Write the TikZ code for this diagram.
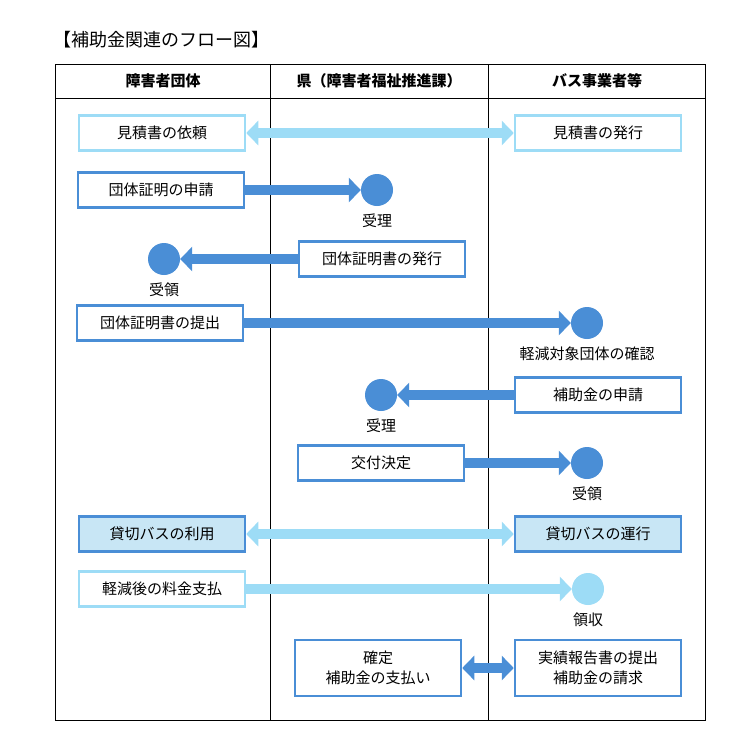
\documentclass[tikz,border=0pt]{standalone}
\usepackage{fontspec}
\setmainfont{Noto Sans CJK JP}
\usetikzlibrary{arrows.meta}
\definecolor{dblue}{HTML}{4A8ED6}
\definecolor{lblue}{HTML}{9DDCF6}
\definecolor{lfill}{HTML}{C8E6F5}
\tikzset{
  dbox/.style={draw=dblue,line width=2.5pt,fill=white,minimum width=166pt,minimum height=35pt,inner sep=0pt,align=center,font=\fontsize{15}{20}\selectfont},
  lbox/.style={dbox,draw=lblue},
  dot/.style={circle,fill=dblue,minimum size=32pt,inner sep=0pt},
  ldot/.style={dot,fill=lblue},
  dlab/.style={label={[font=\fontsize{15}{18}\selectfont,yshift=-4pt]below:#1}},
  flow/.style={line width=10pt,draw=dblue,-{Triangle[length=12pt,width=24pt]}},
  lflow/.style={flow,draw=lblue},
  both/.style={flow,{Triangle[length=12pt,width=24pt]}-{Triangle[length=12pt,width=24pt]}},
}
\begin{document}
\begin{tikzpicture}[x=1pt,y=-1pt]
  \useasboundingbox (0,0) rectangle (740,753);
  % table
  \node[anchor=west,font=\fontsize{18}{21}\selectfont] (title) at (50,40) {【補助金関連のフロー図】};
  \draw[line width=0.8pt] (55,64) rectangle (705,720);
  \draw[line width=0.8pt] (55,98) -- (705,98);
  \draw[line width=0.8pt] (270,64) -- (270,720);
  \draw[line width=0.8pt] (488,64) -- (488,720);
  \foreach \x/\t in {163/障害者団体,379/県（障害者福祉推進課）,597/バス事業者等}
    \node[font=\bfseries\fontsize{15}{18}\selectfont] at (\x,81) {\t};

  % rows
  \node[lbox] (irai) at (162,133) {見積書の依頼};
  \node[lbox] (hakko) at (598,133) {見積書の発行};
  \draw[both,draw=lblue] (irai) -- (hakko);

  \node[dbox] (shinsei) at (161,190) {団体証明の申請};
  \node[dot,dlab=受理] (juri1) at (377,190) {};
  \draw[flow] (shinsei) -- (juri1);

  \node[dbox] (shomei) at (382,259) {団体証明書の発行};
  \node[dot,dlab=受領] (juryo1) at (164,259) {};
  \draw[flow] (shomei) -- (juryo1);

  \node[dbox] (teishutsu) at (160,323) {団体証明書の提出};
  \node[dot,dlab=軽減対象団体の確認] (kakunin) at (587,323) {};
  \draw[flow] (teishutsu) -- (kakunin);

  \node[dbox] (hojo) at (598,395) {補助金の申請};
  \node[dot,dlab=受理] (juri2) at (381,395) {};
  \draw[flow] (hojo) -- (juri2);

  \node[dbox] (kofu) at (381,463) {交付決定};
  \node[dot,dlab=受領] (juryo2) at (587,463) {};
  \draw[flow] (kofu) -- (juryo2);

  \node[dbox,fill=lfill] (riyo) at (162,534) {貸切バスの利用};
  \node[dbox,fill=lfill] (unko) at (598,534) {貸切バスの運行};
  \draw[both,draw=lblue] (riyo) -- (unko);

  \node[lbox] (shiharai) at (162,589) {軽減後の料金支払};
  \node[ldot,dlab=領収] (ryoshu) at (588,589) {};
  \draw[lflow] (shiharai) -- (ryoshu);

  \node[dbox,minimum height=56pt] (kakutei) at (378,668) {確定\\補助金の支払い};
  \node[dbox,minimum height=56pt] (jisseki) at (598,668) {実績報告書の提出\\補助金の請求};
  \draw[both] (kakutei) -- (jisseki);
\end{tikzpicture}
\end{document}
